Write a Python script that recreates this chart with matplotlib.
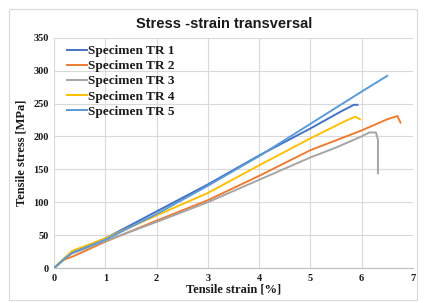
import matplotlib
matplotlib.use('Agg')
import matplotlib.pyplot as plt

# strain [%] / stress [MPa]
tr1_x = [0, 0.2, 0.35, 1.0, 2.0, 3.0, 4.0, 5.0, 5.6, 5.85, 5.92]
tr1_y = [0, 14, 24, 45, 86, 127, 171, 212, 238, 248, 248]
tr2_x = [0, 0.2, 0.35, 1.0, 2.0, 3.0, 4.0, 5.0, 6.0, 6.5, 6.7, 6.76]
tr2_y = [0, 13, 17, 40, 72, 103, 140, 179, 209, 226, 231, 221]
tr3_x = [0, 0.2, 0.35, 1.0, 2.0, 3.0, 4.0, 5.0, 5.5, 6.0, 6.15, 6.28, 6.32, 6.32]
tr3_y = [0, 14, 22, 41, 70, 100, 134, 168, 183, 200, 206, 206, 195, 144]
tr4_x = [0, 0.2, 0.35, 1.0, 2.0, 3.0, 4.0, 5.0, 5.7, 5.88, 5.97]
tr4_y = [0, 15, 26, 45, 80, 114, 156, 197, 224, 230, 226]
tr5_x = [0, 0.2, 0.35, 1.0, 2.0, 3.0, 4.0, 5.0, 6.0, 6.5]
tr5_y = [0, 14, 23, 43, 82, 125, 170, 219, 268, 292]

series = [
    ('Specimen TR 1', tr1_x, tr1_y, '#4472C4'),
    ('Specimen TR 2', tr2_x, tr2_y, '#ED7D31'),
    ('Specimen TR 3', tr3_x, tr3_y, '#A5A5A5'),
    ('Specimen TR 4', tr4_x, tr4_y, '#FFC000'),
    ('Specimen TR 5', tr5_x, tr5_y, '#5B9BD5'),
]

fig = plt.figure(figsize=(4.26, 3.03), dpi=100)
ax = fig.add_axes([0.127, 0.1155, 0.842, 0.76])

for name, x, y, c in series:
    ax.plot(x, y, color=c, lw=1.4, label=name)

ax.set_xlim(0, 7)
ax.set_ylim(0, 350)
ax.set_xticks(range(0, 8))
ax.set_yticks(range(0, 351, 50))
ax.grid(True, color='#D9D9D9', lw=0.8)
ax.set_axisbelow(True)
for s in ['top', 'right', 'left']:
    ax.spines[s].set_visible(False)
ax.spines['bottom'].set_color('#BFBFBF')
ax.tick_params(length=0, pad=4)
for lab in ax.get_xticklabels() + ax.get_yticklabels():
    lab.set_fontfamily('Liberation Serif')
    lab.set_fontweight('bold')
    lab.set_fontsize(7.5)
    lab.set_color('#1a1a1a')

ax.set_xlabel('Tensile strain [%]', family='Liberation Serif', weight='bold',
              fontsize=9, labelpad=1, color='#1a1a1a')
ax.set_ylabel('Tensile stress [MPa]', family='Liberation Serif', weight='bold',
              fontsize=9, labelpad=4, color='#1a1a1a')

fig.text(0.525, 0.92, 'Stress -strain transversal', ha='center', va='center',
         family='Liberation Sans', weight='bold', fontsize=10.5, color='#1a1a1a')

leg = ax.legend(loc='upper left', bbox_to_anchor=(0.015, 1.0), frameon=False,
                prop={'family': 'Liberation Serif', 'weight': 'bold', 'size': 9.5},
                handlelength=1.5, handletextpad=0.1, labelspacing=0.22,
                borderaxespad=0.15)
for t in leg.get_texts():
    t.set_color('#1a1a1a')

# outer chart border
fig.patches.append(plt.Rectangle((0.02, 0.01), 0.96, 0.96, transform=fig.transFigure,
                                 fill=False, ec='#D9D9D9', lw=0.8))

fig.savefig('out.png', dpi=100)
